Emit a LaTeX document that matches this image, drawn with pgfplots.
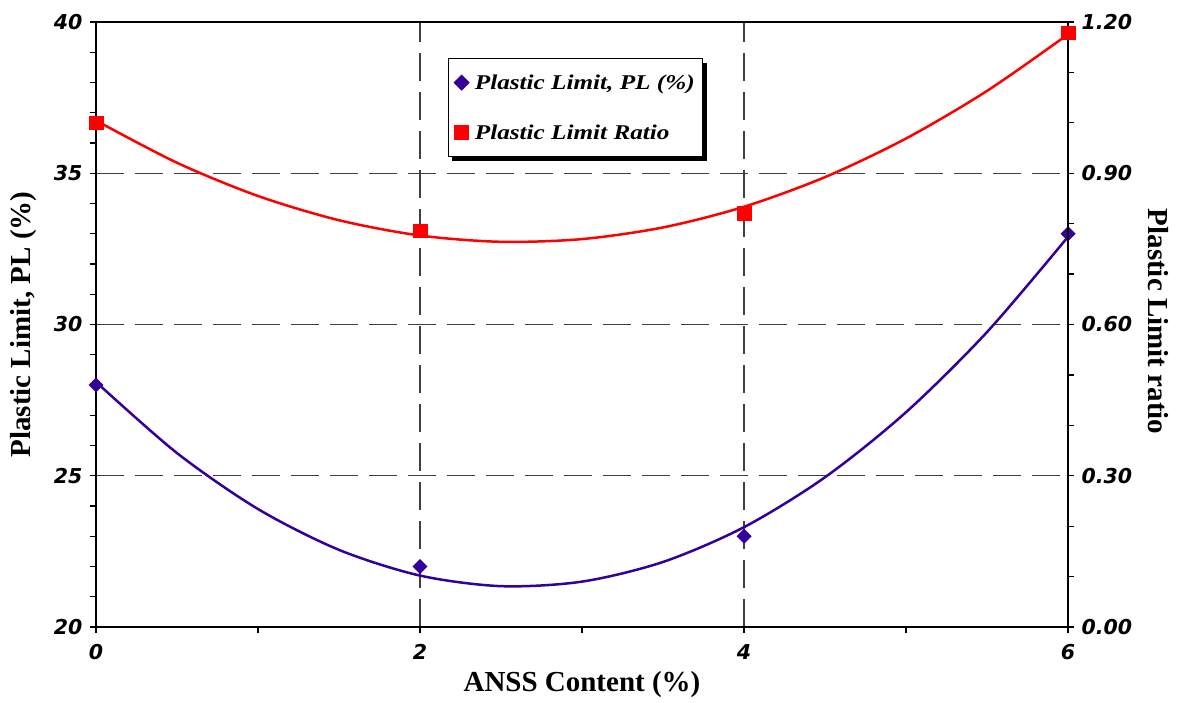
\documentclass[border=0pt]{standalone}
\usepackage{pgfplots}
\pgfplotsset{compat=1.18}
\usepackage{pgfplotstable}
\usepackage{fontspec}
\setmainfont{Liberation Serif}
\newfontfamily\tickfont{DejaVu Sans}
\newfontfamily\legfont{Liberation Serif}[FakeStretch=1.2]
\usetikzlibrary{shadows}
\definecolor{plc}{RGB}{51,0,153}
\definecolor{plr}{RGB}{255,0,0}

% measured points
\pgfplotstableread{
x y
0 28
2 22
4 23
6 33
}\pldata
\pgfplotstableread{
x y
0 1.000
2 0.786
4 0.821
6 1.179
}\ratiodata
% trend lines
\pgfplotstableread{
x y
0 28.10
0.5 25.75
1 23.90
1.5 22.55
2 21.70
2.5 21.35
3 21.50
3.5 22.15
4 23.30
4.5 24.95
5 27.10
5.5 29.75
6 32.90
}\plfit
\pgfplotstableread{
x y
0 1.0045
0.5 0.9208
1 0.8549
1.5 0.8068
2 0.7765
2.5 0.7640
3 0.7694
3.5 0.7925
4 0.8335
4.5 0.8923
5 0.9689
5.5 1.0633
6 1.1755
}\ratiofit

\pgfplotsset{
  common/.style={
    at={(96pt,75pt)}, anchor=south west,
    scale only axis, width=972pt, height=605pt,
    xmin=0, xmax=6, clip=false,
    tick align=outside,
    major tick length=6pt, minor tick length=6pt,
    every tick/.style={black, line width=1.2pt},
    axis line style={black, line width=1.3pt},
    /pgf/number format/assume math mode=true,
    ticklabel style={font=\tickfont\bfseries\itshape\fontsize{20.5}{24}\selectfont},
  }
}

\begin{document}
\begin{tikzpicture}
\path[use as bounding box] (0,0) rectangle (1181pt,702pt);
\begin{axis}[common,
  ymin=20, ymax=40,
  ytick={20,25,30,35,40}, minor y tick num=4,
  xtick={0,2,4,6}, minor x tick num=1,
  tick pos=left,
  grid=major,
  major grid style={dash pattern=on 28pt off 11pt, black!75, line width=1.2pt},
  xticklabel style={yshift=-8pt},
  yticklabel style={xshift=-4pt},
  xlabel={\bfseries ANSS Content (\%)},
  xlabel style={at={(axis description cs:0.5,-0.095)}, anchor=center, font=\fontsize{29}{34}\selectfont},
  ylabel={\bfseries Plastic Limit, PL (\%)},
  ylabel style={at={(axis description cs:-0.075,0.5)}, anchor=center, rotate=0, font=\fontsize{29}{34}\selectfont},
]
\addplot[plc, line width=2.5pt, smooth, no markers, forget plot] table {\plfit};
\addplot[plc, only marks, mark=square*, mark size=5.1pt, mark options={rotate=45}, forget plot] table {\pldata};
\end{axis}
\begin{axis}[common,
  ymin=0, ymax=1.2,
  axis x line=none, axis y line*=right,
  ytick={0,0.3,0.6,0.9,1.2}, minor y tick num=2,
  yticklabel style={xshift=4pt, /pgf/number format/.cd, fixed, fixed zerofill, precision=2},
  ylabel={\bfseries Plastic Limit ratio},
  ylabel style={at={(axis description cs:1.0926,0.505)}, anchor=center, rotate=180, font=\fontsize{29}{34}\selectfont},
  legend cell align=left,
  legend style={at={(axis description cs:0.362,0.9405)}, anchor=north west,
    draw=black, line width=1.2pt, fill=white,
    inner xsep=6pt, inner ysep=14pt, row sep=30pt,
    font=\legfont\bfseries\itshape\fontsize{21}{25}\selectfont,
    drop shadow={shadow xshift=4pt, shadow yshift=-4pt, fill=black, opacity=1},
    /tikz/every odd column/.append style={column sep=4pt}},
]
\addlegendimage{plc, only marks, mark=square*, mark size=5.1pt, mark options={rotate=45}}
\addlegendentry{Plastic Limit, PL (\%)}
\addplot[plr, line width=2.5pt, smooth, no markers, forget plot] table {\ratiofit};
\addplot[plr, only marks, mark=square*, mark size=6.8pt] table {\ratiodata};
\addlegendentry{Plastic Limit Ratio}
\end{axis}
\end{tikzpicture}
\end{document}
